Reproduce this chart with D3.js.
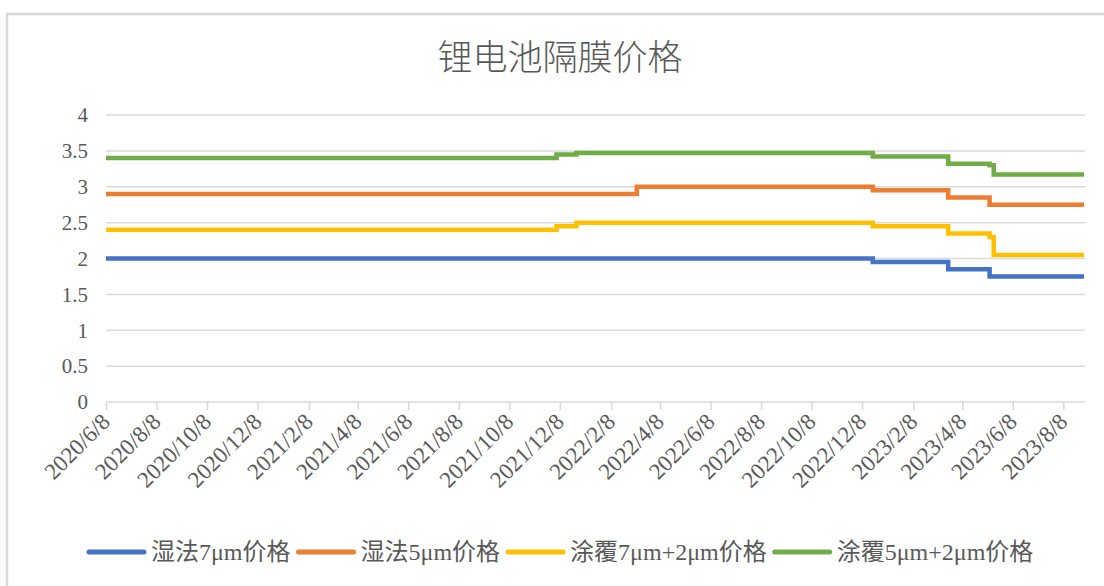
<!DOCTYPE html>
<html>
<head>
<meta charset="utf-8">
<script src="https://cdn.jsdelivr.net/npm/d3@7"></script>
<style>
  body { margin: 0; background: #fff; }
  text { font-family: "Liberation Serif", "Noto Sans CJK SC", serif; fill: #595959; }
</style>
</head>
<body>
<svg id="chart" width="1104" height="586"></svg>
<script>
// change dates of the step series (price holds until next date)
var changeDates = ["2020/6/8", "2021/12/4", "2021/12/28", "2022/3/11", "2022/12/21",
                   "2023/3/22", "2023/5/11", "2023/5/16", "2023/9/2"];
var wet7 = [2.0, 2.0, 2.0, 2.0, 1.95, 1.85, 1.75, 1.75, 1.75];
var wet5 = [2.9, 2.9, 2.9, 3.0, 2.95, 2.85, 2.75, 2.75, 2.75];
var coat72 = [2.4, 2.45, 2.5, 2.5, 2.45, 2.35, 2.3, 2.05, 2.05];
var coat52 = [3.4, 3.45, 3.47, 3.47, 3.42, 3.32, 3.3, 3.17, 3.17];

var seriesNames = ["湿法7μm价格", "湿法5μm价格", "涂覆7μm+2μm价格", "涂覆5μm+2μm价格"];
var seriesColors = ["#4472C4", "#ED7D31", "#FFC000", "#70AD47"];

var xTickLabels = ["2020/6/8", "2020/8/8", "2020/10/8", "2020/12/8", "2021/2/8", "2021/4/8",
                   "2021/6/8", "2021/8/8", "2021/10/8", "2021/12/8", "2022/2/8", "2022/4/8",
                   "2022/6/8", "2022/8/8", "2022/10/8", "2022/12/8", "2023/2/8", "2023/4/8",
                   "2023/6/8", "2023/8/8"];
var yTicks = [0, 0.5, 1, 1.5, 2, 2.5, 3, 3.5, 4];

var parseDate = d3.timeParse("%Y/%m/%d");
var svg = d3.select("#chart");

// chart frame (runs off the right / bottom edge like the screenshot)
svg.append("rect")
    .attr("x", 7).attr("y", 14)
    .attr("width", 1120).attr("height", 600)
    .attr("fill", "none")
    .attr("stroke", "#d9d9d9")
    .attr("stroke-width", 2.5);

svg.append("text")
    .attr("x", 560).attr("y", 70)
    .attr("text-anchor", "middle")
    .style("font-family", "'Noto Sans CJK SC', sans-serif")
    .style("font-size", "35px")
    .style("font-weight", 300)
    .text("锂电池隔膜价格");

var x = d3.scaleTime()
    .domain([parseDate(changeDates[0]), parseDate(changeDates[changeDates.length - 1])])
    .range([106, 1084]);

var y = d3.scaleLinear()
    .domain([0, 4])
    .range([402, 115]);

// gridlines
svg.append("g")
  .selectAll("line")
    .data(yTicks.filter(function(d) { return d > 0; }))
    .enter().append("line")
    .attr("x1", 106).attr("x2", 1085)
    .attr("y1", function(d) { return y(d); })
    .attr("y2", function(d) { return y(d); })
    .attr("stroke", "#d9d9d9")
    .attr("stroke-width", 1.5);

// y labels
svg.append("g")
  .selectAll("text")
    .data(yTicks)
    .enter().append("text")
    .attr("x", 88)
    .attr("y", function(d) { return y(d); })
    .attr("dy", "0.35em")
    .attr("text-anchor", "end")
    .style("font-size", "21px")
    .text(function(d) { return d; });

// x axis
var xAxis = d3.axisBottom(x)
    .tickValues(xTickLabels.map(parseDate))
    .tickSize(8)
    .tickSizeOuter(0)
    .tickFormat(d3.timeFormat("%Y/%-m/%-d"));

var gx = svg.append("g")
    .attr("transform", "translate(0," + y(0) + ")")
    .call(xAxis);

gx.select(".domain")
    .attr("d", "M106,0H1085")
    .attr("stroke", "#d9d9d9")
    .attr("stroke-width", 1.5);
gx.selectAll(".tick line")
    .attr("stroke", "#d9d9d9")
    .attr("stroke-width", 1.5);
gx.selectAll(".tick text")
    .attr("text-anchor", "end")
    .attr("x", 0).attr("y", 0)
    .attr("dy", 0)
    .attr("transform", "translate(5,21) rotate(-45)")
    .style("font-family", "'Liberation Serif', serif")
    .style("font-size", "23px")
    .attr("fill", "#595959");

// step lines
var allSeries = [wet7, wet5, coat72, coat52];
var line = d3.line()
    .x(function(d, i) { return x(parseDate(changeDates[i])); })
    .y(function(d) { return y(d); })
    .curve(d3.curveStepAfter);

svg.append("g")
  .selectAll("path")
    .data(allSeries)
    .enter().append("path")
    .attr("d", line)
    .attr("fill", "none")
    .attr("stroke", function(d, i) { return seriesColors[i]; })
    .attr("stroke-width", 4.5);

// legend
var legend = svg.append("g");
var lx = 89, ly = 552;
seriesNames.forEach(function(name, i) {
  legend.append("line")
      .attr("x1", lx).attr("x2", lx + 55)
      .attr("y1", ly).attr("y2", ly)
      .attr("stroke", seriesColors[i])
      .attr("stroke-width", 5)
      .attr("stroke-linecap", "round");
  var t = legend.append("text")
      .attr("x", lx + 62).attr("y", ly)
      .attr("dy", "0.35em")
      .style("font-size", "24px")
      .text(name);
  lx = lx + 62 + t.node().getComputedTextLength() + 8;
});
</script>
</body>
</html>
